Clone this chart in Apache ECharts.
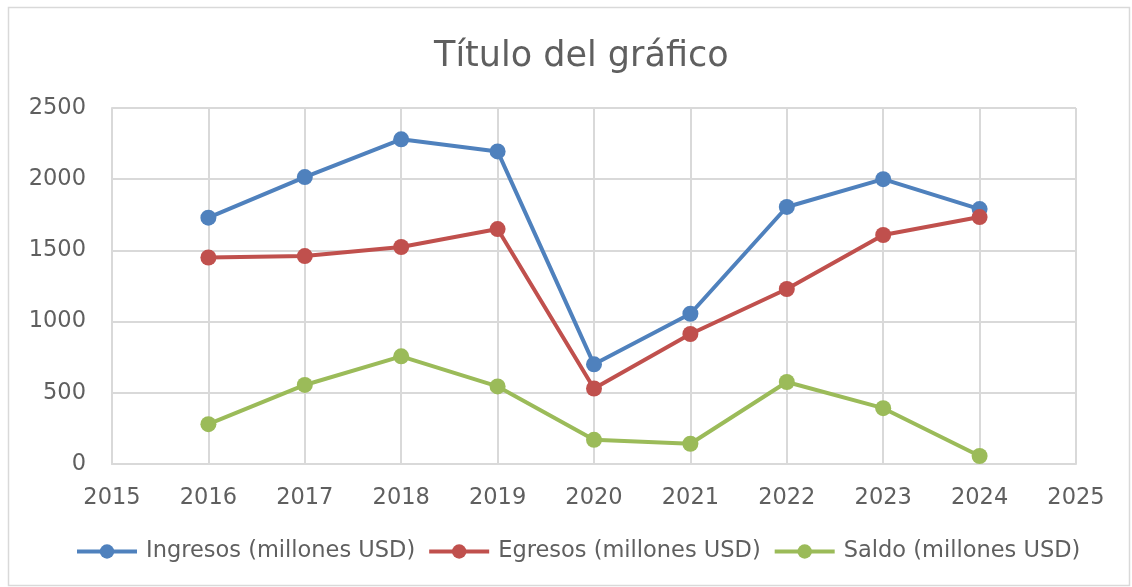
<!DOCTYPE html>
<html><head><meta charset="utf-8">
<script src="https://cdn.jsdelivr.net/npm/echarts@6/dist/echarts.min.js"></script>
<style>html,body{margin:0;padding:0;background:#fff}#c{width:1132px;height:587px}</style>
</head><body><div id="c"></div>
<script>
const years = [2016, 2017, 2018, 2019, 2020, 2021, 2022, 2023, 2024];
const ingresos = [1730, 2015, 2280, 2195, 700, 1055, 1805, 2000, 1790];
const egresos = [1450, 1460, 1524, 1650, 530, 913, 1229, 1608, 1734];
const saldo = [280, 555, 756, 545, 170, 142, 576, 392, 56];
const seriesNames = ['Ingresos (millones USD)', 'Egresos (millones USD)', 'Saldo (millones USD)'];
const colors = ['#4F81BD', '#C0504D', '#9BBB59'];
const FONT = 'DejaVu Sans';
const TXT = '#5f5f5f';
const pairs = arr => years.map((y, i) => [y, arr[i]]);
const chart = echarts.init(document.getElementById('c'));
chart.setOption({
  animation: false,
  color: colors,
  title: {text: 'Título del gráfico', left: 429, top: 34,
    textStyle: {fontFamily: FONT, fontSize: 35, fontWeight: 'normal', color: TXT}},
  graphic: [{type: 'rect', shape: {x: 8.5, y: 7.5, width: 1121, height: 578}, silent: true,
    style: {fill: 'none', stroke: '#d9d9d9', lineWidth: 1.5}}],
  grid: {left: 112, right: 56, top: 108, bottom: 123},
  legend: {bottom: 19, left: 70, itemWidth: 60, itemHeight: 18, itemGap: 12,
    lineStyle: {width: 4},
    textStyle: {fontFamily: FONT, fontSize: 22.5, color: TXT, padding: [0, 0, 0, 4]}},
  xAxis: {type: 'value', min: 2015, max: 2025, interval: 1,
    axisLine: {show: true, lineStyle: {color: '#d9d9d9', width: 2}},
    axisTick: {show: false},
    splitLine: {show: true, lineStyle: {color: '#d9d9d9', width: 2}},
    axisLabel: {formatter: v => String(v), fontFamily: FONT, fontSize: 22.5, color: TXT, margin: 23}},
  yAxis: {type: 'value', min: 0, max: 2500, interval: 500,
    axisLine: {show: true, lineStyle: {color: '#d9d9d9', width: 2}},
    axisTick: {show: false},
    splitLine: {show: true, lineStyle: {color: '#d9d9d9', width: 2}},
    axisLabel: {formatter: v => String(v), fontFamily: FONT, fontSize: 22.5, color: TXT, margin: 26}},
  series: seriesNames.map((n, i) => ({
    name: n, type: 'line', data: pairs([ingresos, egresos, saldo][i]),
    symbol: 'circle', symbolSize: 16, lineStyle: {width: 4, color: colors[i]},
    itemStyle: {color: colors[i]}
  }))
});
</script></body></html>
